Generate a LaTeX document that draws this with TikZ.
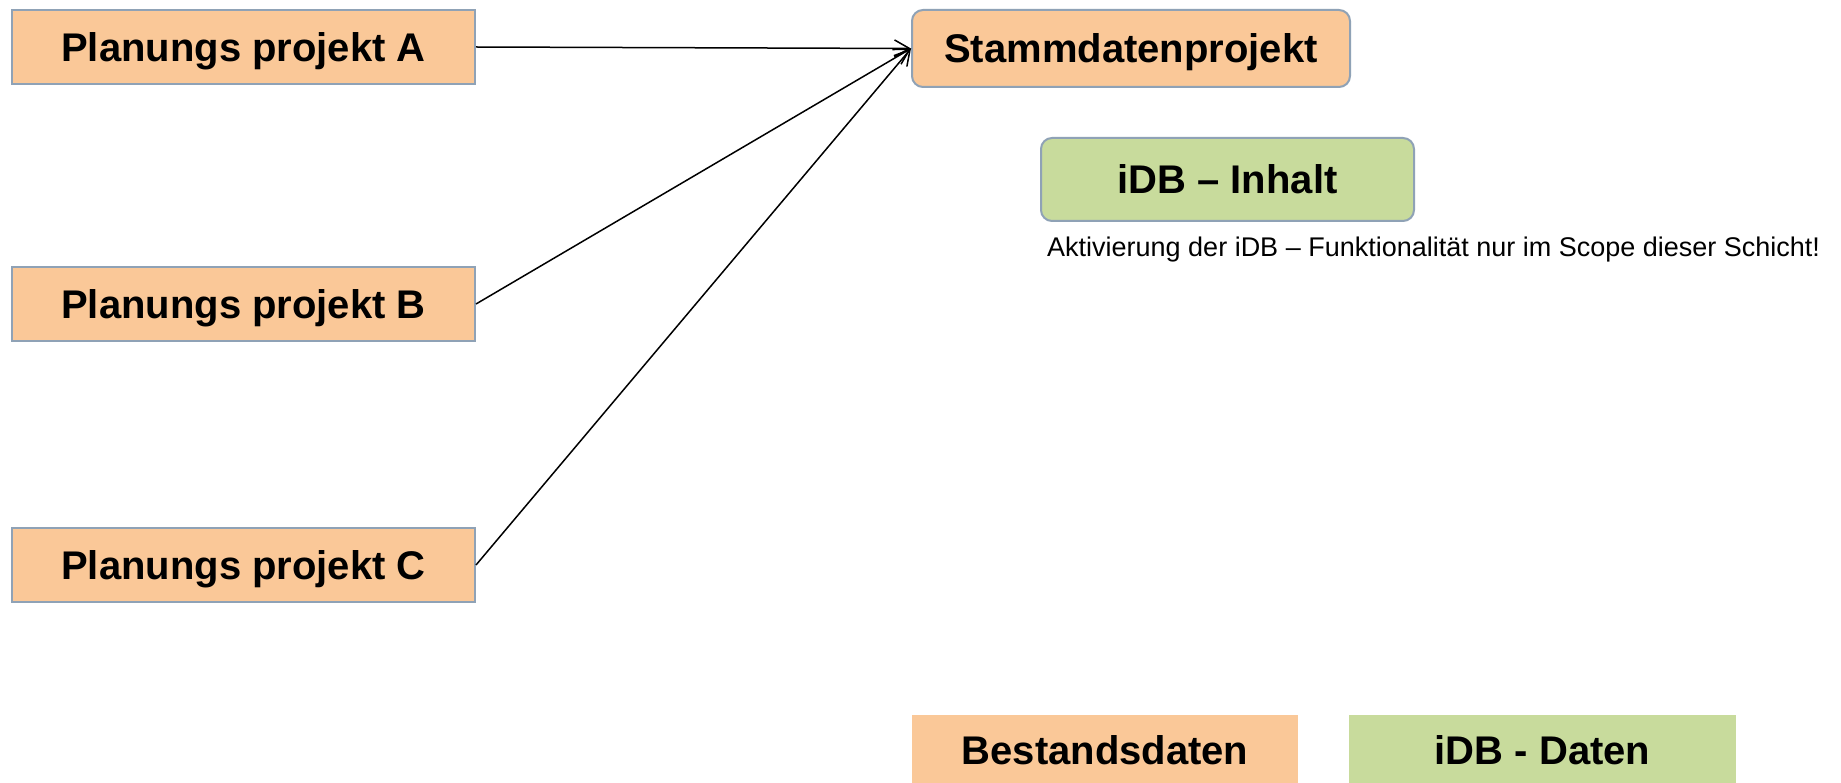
\documentclass[tikz,border=0pt]{standalone}
\usepackage{fontspec}
\setmainfont{Liberation Sans}
\usetikzlibrary{arrows.meta}
\definecolor{boxorange}{HTML}{FAC898}
\definecolor{boxgreen}{HTML}{C8DB9C}
\definecolor{boxline}{HTML}{8FA2B6}
\tikzset{
  bigtext/.style={font=\bfseries\fontsize{40}{48}\selectfont, text height=28.6pt, text depth=0pt, inner sep=0pt, align=center},
  planbox/.style={bigtext, draw=boxline, line width=2pt, fill=boxorange, minimum width=463pt, minimum height=74pt},
  roundbox/.style={bigtext, draw=boxline, line width=2pt, rounded corners=11pt},
  legendbox/.style={bigtext, minimum height=70pt},
  link/.style={line width=1.5pt, -{Straight Barb[length=15pt,width=17pt,line width=1.5pt]}}
}
\begin{document}
\begin{tikzpicture}[x=1pt,y=-1pt]
\useasboundingbox (0,0) rectangle (1841,783);
\clip (0,0) rectangle (1841,783);
\fill[white] (0,0) rectangle (1841,783);
\node[planbox] (pa) at (243.5,47) {Planungs projekt A};
\node[planbox] (pb) at (243.5,304) {Planungs projekt B};
\node[planbox] (pc) at (243.5,565) {Planungs projekt C};
\node[roundbox, fill=boxorange, minimum width=438pt, minimum height=77pt] (stamm) at (1131,48.5) {Stammdatenprojekt};
\node[roundbox, fill=boxgreen, minimum width=373pt, minimum height=83pt] (inhalt) at (1227.5,179.5) {iDB – Inhalt};
\node[anchor=base west, inner sep=0pt, font=\fontsize{27}{32}\selectfont] (note) at (1047,257) {Aktivierung der iDB – Funktionalität nur im Scope dieser Schicht!};
\node[legendbox, fill=boxorange, minimum width=386pt] (bestand) at (1105,750) {Bestandsdaten};
\node[legendbox, fill=boxgreen, minimum width=387pt] (daten) at (1542.5,750) {iDB - Daten};
\draw[link] (pa.east) -- (stamm.west);
\draw[link] (pb.east) -- (stamm.west);
\draw[link] (pc.east) -- (stamm.west);
\end{tikzpicture}
\end{document}
